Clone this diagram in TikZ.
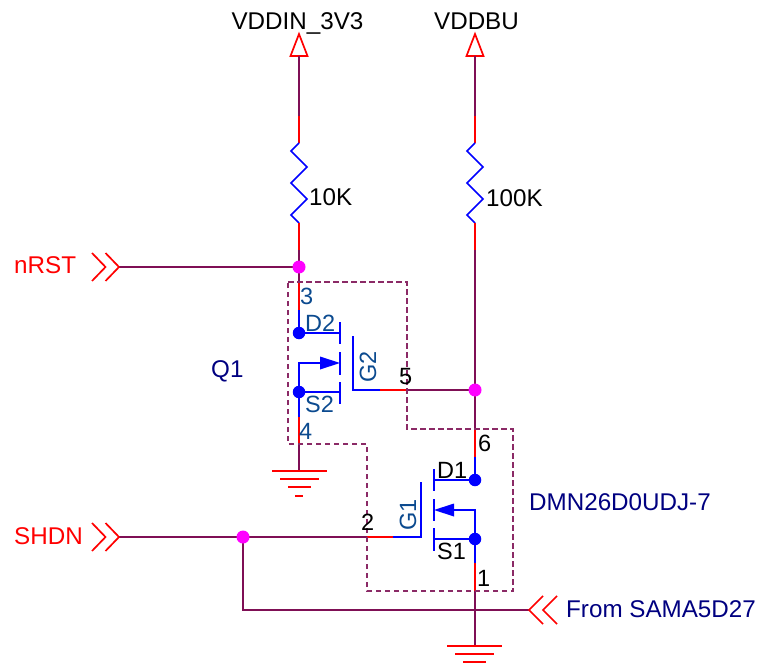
\documentclass[tikz,border=0pt]{standalone}
\usepackage{fontspec}
\setmainfont{Liberation Sans}
\definecolor{wire}{HTML}{7F0F55}
\definecolor{pinred}{HTML}{FF0000}
\definecolor{sym}{HTML}{0000FF}
\definecolor{jun}{HTML}{FF00FF}
\definecolor{boxc}{HTML}{8B2A66}
\definecolor{navy}{HTML}{000080}
\definecolor{pinblue}{HTML}{0B4A8F}
\tikzset{
 wirel/.style={wire,line width=1.8pt},
 pinl/.style={pinred,line width=1.7pt},
 syml/.style={sym,line width=1.7pt},
 dotb/.style={circle,fill=sym,inner sep=0pt,minimum size=12.5pt},
 dotj/.style={circle,fill=jun,inner sep=0pt,minimum size=13pt},
 txt/.style={inner sep=0pt,font=\fontsize{24.2}{24.2}\selectfont},
 pinno/.style={inner sep=0pt,font=\fontsize{23.5}{23.5}\selectfont},
}
\begin{document}
\begin{tikzpicture}[x=1pt,y=-1pt]
\useasboundingbox (0,0) rectangle (759,668);
% named points
\coordinate (pl) at (299,56);
\coordinate (pr) at (475,56);
\coordinate (jlc) at (299,267);
\coordinate (jrc) at (475,390);
\coordinate (jsc) at (243,537);
\coordinate (d2c) at (299,333);
\coordinate (s2c) at (299,392);
\coordinate (d1c) at (475,480);
\coordinate (s1c) at (475,539);
\coordinate (gl) at (299,471);
\coordinate (gr) at (475,646);
% power arrows
\draw[pinl] (299,34)--(290.5,56)--(307.5,56)--cycle;
\draw[pinl] (475,34)--(466.5,56)--(483.5,56)--cycle;
% left resistor column
\draw[wirel] (pl)--(299,116);
\draw[pinl] (299,116)--(299,143);
\draw[syml] (299,143)--(291,151)--(307,167)--(291,183)--(307,199)--(291,215)--(299,223);
\draw[pinl] (299,223)--(299,250);
\draw[wirel] (299,250)--(jlc);
% right resistor column
\draw[wirel] (pr)--(475,116);
\draw[pinl] (475,116)--(475,143);
\draw[syml] (475,143)--(467,151)--(483,167)--(467,183)--(483,199)--(467,215)--(475,223);
\draw[pinl] (475,223)--(475,250);
\draw[wirel] (475,250)--(jrc);
% nRST
\draw[wirel] (119,267)--(jlc);
\draw[pinl] (92,253)--(105.5,267)--(92,281);
\draw[pinl] (105.5,253)--(119,267)--(105.5,281);
% Q2
\draw[wirel] (jlc)--(299,282);
\draw[pinl] (299,282)--(299,310);
\draw[syml] (299,310)--(d2c);
\draw[syml] (d2c)--(340,333);
\draw[syml] (340,322)--(340,344) (340,352)--(340,375) (340,382)--(340,404);
\draw[syml] (s2c)--(340,392);
\draw[syml] (s2c)--(299,363)--(322,363);
\fill[sym] (340,363)--(320,356.5)--(320,369.5)--cycle;
\draw[syml] (353,336)--(353,390)--(380,390);
\draw[pinl] (380,390)--(407,390);
\draw[wirel] (407,390)--(jrc);
\draw[syml] (s2c)--(299,417);
\draw[pinl] (299,417)--(299,444);
\draw[wirel] (299,444)--(gl);
% ground left
\draw[pinl] (272,471)--(327,471) (280,479)--(319,479) (288,487)--(311,487) (295,496)--(303,496);
% Q1
\draw[wirel] (jrc)--(475,429);
\draw[pinl] (475,429)--(475,457);
\draw[syml] (475,457)--(d1c);
\draw[syml] (d1c)--(434,480);
\draw[syml] (434,469)--(434,491) (434,499)--(434,521) (434,528)--(434,551);
\draw[syml] (s1c)--(434,539);
\draw[syml] (s1c)--(475,510)--(452,510);
\fill[sym] (434,510)--(454,503.5)--(454,516.5)--cycle;
\draw[syml] (421,482)--(421,537)--(393,537);
\draw[pinl] (393,537)--(367,537);
\draw[wirel] (367,537)--(jsc);
\draw[syml] (s1c)--(475,563);
\draw[pinl] (475,563)--(475,591);
\draw[wirel] (475,591)--(gr);
\draw[pinl] (447,646)--(502,646) (455,654)--(494,654) (463,662)--(486,662);
% SHDN
\draw[wirel] (119,537)--(jsc);
\draw[pinl] (92,523)--(105.5,537)--(92,551);
\draw[pinl] (105.5,523)--(119,537)--(105.5,551);
% From
\draw[wirel] (jsc)--(243,610)--(529,610);
\draw[pinl] (543,596)--(529,610)--(543,624);
\draw[pinl] (557,596)--(543,610)--(557,624);
% package outline
\draw[boxc,line width=1.3pt,dash pattern=on 5.5pt off 3.5pt]
 (288,282)--(407,282)--(407,429)--(513,429)--(513,591)--(367,591)--(367,444)--(288,444)--cycle;
% junction and pin dots
\node[dotj] (jl) at (jlc) {};
\node[dotj] (jr) at (jrc) {};
\node[dotj] (js) at (jsc) {};
\node[dotb] (d2) at (d2c) {};
\node[dotb] (s2) at (s2c) {};
\node[dotb] (d1) at (d1c) {};
\node[dotb] (s1) at (s1c) {};
% texts
\node[txt,anchor=base] (t1) at (297.5,30) {VDDIN\_3V3};
\node[txt,anchor=base] (t2) at (476.5,30) {VDDBU};
\node[txt,anchor=base west] (t3) at (309,205) {10K};
\node[txt,anchor=base west] (t4) at (486,207) {100K};
\node[txt,anchor=base west,pinred] (t5) at (14,273) {nRST};
\node[txt,anchor=base west,pinred] (t6) at (14,544) {SHDN};
\node[txt,anchor=base west,navy] (t7) at (211,377) {Q1};
\node[txt,anchor=base west,navy] (t8) at (529,510) {DMN26D0UDJ-7};
\node[txt,anchor=base west,navy] (t9) at (566,617) {From SAMA5D27};
\node[pinno,anchor=base west,pinblue] (n3) at (300,304) {3};
\node[pinno,anchor=base west,pinblue] (n4) at (299,439) {4};
\node[pinno,anchor=base west] (n5) at (399,384) {5};
\node[pinno,anchor=base west] (n6) at (478,451) {6};
\node[pinno,anchor=base west] (n2) at (361,530) {2};
\node[pinno,anchor=base west] (n1) at (477,586) {1};
\node[pinno,anchor=base west,pinblue] (l1) at (305,331) {D2};
\node[pinno,anchor=base west,pinblue] (l2) at (305,412) {S2};
\node[pinno,anchor=base west] (l3) at (437,478) {D1};
\node[pinno,anchor=base west] (l4) at (437,559) {S1};
\node[pinno,anchor=base west,pinblue,rotate=90] (l5) at (376,383) {G2};
\node[pinno,anchor=base west,pinblue,rotate=90] (l6) at (416,531) {G1};
\end{tikzpicture}
\end{document}
